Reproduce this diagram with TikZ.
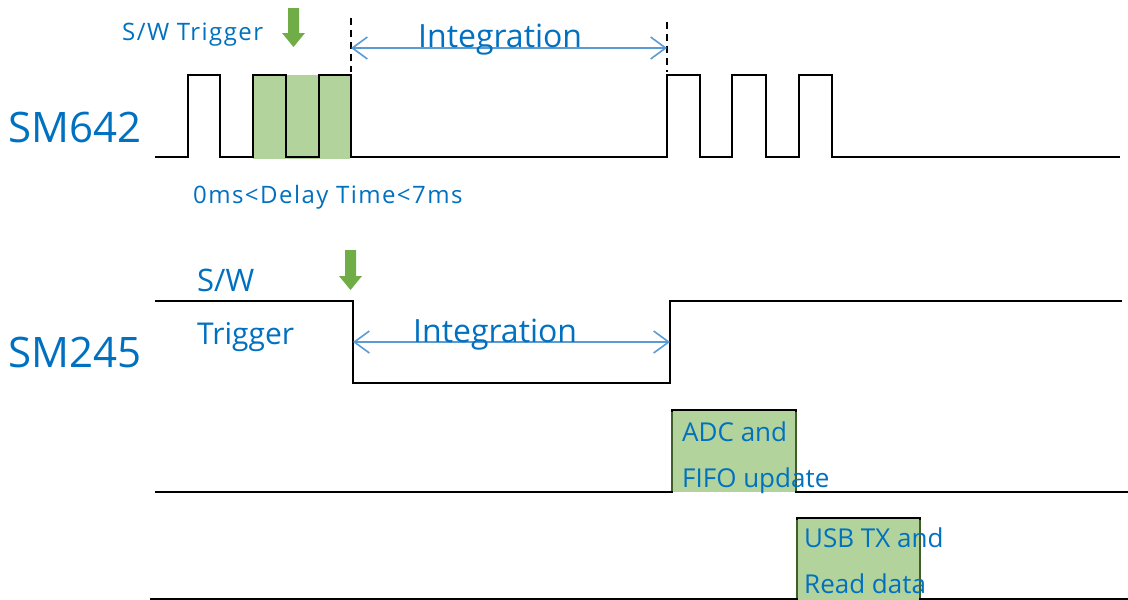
\documentclass[tikz,border=0pt]{standalone}
\usepackage{fontspec}
\setmainfont{Open Sans}
\usetikzlibrary{arrows.meta}
\definecolor{txtblue}{HTML}{0070C0}
\definecolor{arrblue}{HTML}{5B9BD5}
\definecolor{boxgreen}{HTML}{B3D39C}
\definecolor{arrgreen}{HTML}{70AD47}
\definecolor{edgegreen}{HTML}{3F5F2A}
\tikzset{
  sig/.style={draw=black,line width=2pt,line join=miter},
  lbl/.style={text=txtblue,inner sep=0pt,anchor=base west},
  big/.style={lbl,font=\fontsize{42}{46}\selectfont},
  mid/.style={lbl,font=\fontsize{32}{36}\selectfont},
  sml/.style={lbl,font=\fontsize{24}{28}\selectfont\addfontfeatures{LetterSpace=6}},
  box/.style={lbl,font=\fontsize{26}{30}\selectfont},
  intarrow/.style={draw=arrblue,line width=1.6pt,{Straight Barb[length=15pt,width=22pt,line width=1.6pt]}-{Straight Barb[length=15pt,width=22pt,line width=1.6pt]}},
  dashline/.style={draw=black,line width=1.5pt,dash pattern=on 7pt off 5pt},
  greenarrow/.style={fill=arrgreen,draw=none},
  greenbox/.style={fill=boxgreen,draw=none}
}
\begin{document}
\begin{tikzpicture}[x=1pt,y=-1pt]
\useasboundingbox (0,0) rectangle (1128,600);
% ---------- SM642 ----------
\fill[greenbox] (253,75) rectangle (350,159);
\draw[sig] (155,157) -- (188,157) -- (188,75) -- (220,75) -- (220,157) -- (253,157) -- (253,75) -- (286,75) -- (286,157)
  -- (319,157) -- (319,75) -- (351,75) -- (351,157) -- (667,157) -- (667,75) -- (700,75) -- (700,157) -- (732,157)
  -- (732,75) -- (766,75) -- (766,157) -- (799,157) -- (799,75) -- (832,75) -- (832,157) -- (1120,157);
\coordinate (d1top) at (351,18); \coordinate (d1bot) at (351,72);
\coordinate (d2top) at (667,22); \coordinate (d2bot) at (667,72);
\draw[dashline] (d1top) -- (d1bot);
\draw[dashline] (d2top) -- (d2bot);
\coordinate (i1a) at (351,48); \coordinate (i1b) at (667,48);
\draw[intarrow] (i1a) -- (i1b);
\node[mid] (int1) at (418,47) {Integration};
\node[sml] (swtrig1) at (122,40) {S/W Trigger};
\fill[greenarrow] (288,8) -- (299,8) -- (299,33) -- (305,33) -- (293.5,47) -- (282,33) -- (288,33) -- cycle;
\node[big] (sm642) at (8,142) {SM642};
\node[sml] (delay) at (193,203) {0ms<Delay Time<7ms};
% ---------- SM245 ----------
\draw[sig] (155,301) -- (353,301) -- (353,383) -- (670,383) -- (670,301) -- (1122,301);
\fill[greenarrow] (345,250) -- (356,250) -- (356,276) -- (362,276) -- (350.5,290) -- (339,276) -- (345,276) -- cycle;
\coordinate (i2a) at (353,342); \coordinate (i2b) at (670,342);
\draw[intarrow] (i2a) -- (i2b);
\node[mid] (int2) at (413,342) {Integration};
\node[big] (sm245) at (8,367) {SM245};
\node[mid,font=\fontsize{31}{34}\selectfont] (sw2) at (197,291) {S/W};
\node[mid,font=\fontsize{30}{34}\selectfont] (trig2) at (197,344) {Trigger};
% ---------- ADC ----------
\fill[greenbox] (672,410) rectangle (796,492);
\draw[sig] (155,492) -- (672,492) -- (672,410) -- (796,410) -- (796,492) -- (1128,492);
\draw[edgegreen,line width=1.5pt] (672,412) -- (672,491) (796,412) -- (796,491);
\node[box] (adc1) at (682,441) {ADC and};
\node[box] (adc2) at (682,487) {FIFO update};
% ---------- USB ----------
\fill[greenbox] (797,518) rectangle (920,600);
\draw[sig] (150,599) -- (797,599) -- (797,518) -- (920,518) -- (920,599) -- (1128,599);
\draw[edgegreen,line width=1.5pt] (797,520) -- (797,598) (920,520) -- (920,598);
\node[box] (usb1) at (804,547) {USB TX and};
\node[box] (usb2) at (804,593) {Read data};
\end{tikzpicture}
\end{document}
